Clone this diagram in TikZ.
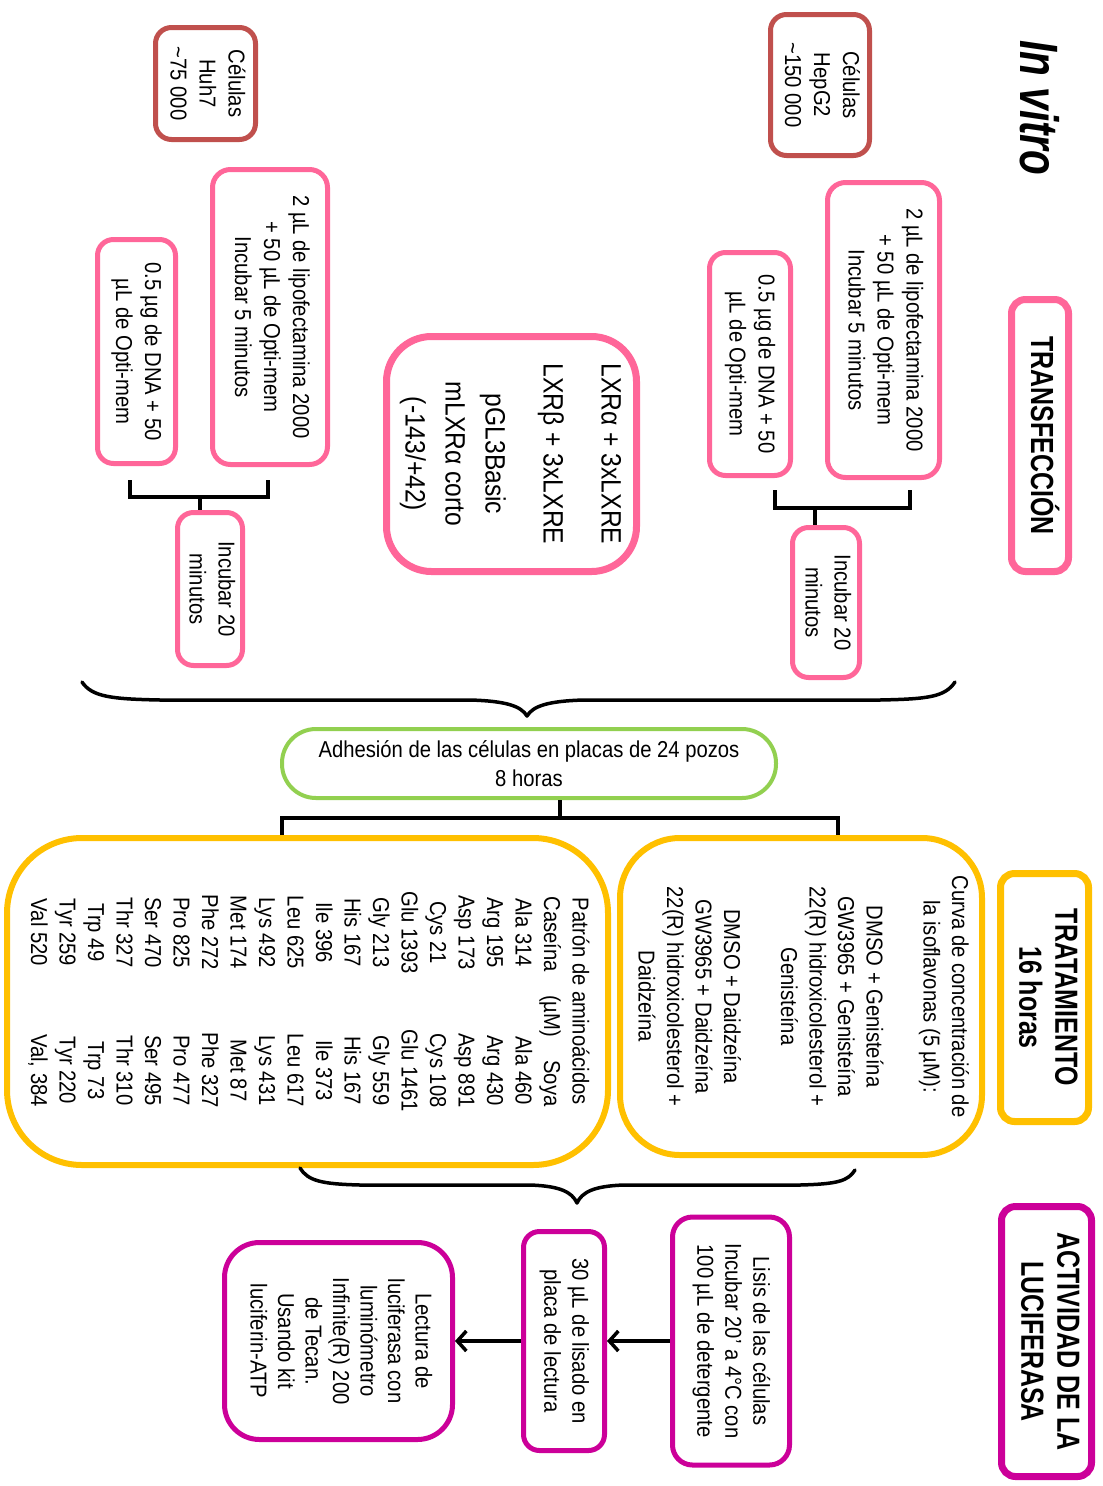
\documentclass[tikz,border=0pt]{standalone}
\usepackage{fontspec}
\setmainfont{Liberation Sans}[FakeStretch=0.88]
\newfontfamily\headfont{Liberation Sans}[FakeStretch=0.78]
\newfontfamily\titlefont{Liberation Sans}[FakeStretch=0.75]
\usetikzlibrary{arrows.meta}
\definecolor{pinkc}{RGB}{255,102,153}
\definecolor{redc}{RGB}{192,80,77}
\definecolor{greenc}{RGB}{146,208,80}
\definecolor{yellc}{RGB}{255,192,0}
\definecolor{magc}{RGB}{204,0,153}
\newcommand\rottxt[1]{\rotatebox{-90}{\begin{tabular}{@{}c@{}}#1\end{tabular}}}
\newcommand\aapair[2]{\makebox[138pt]{#1}\makebox[138pt]{#2}}
\tikzset{
  bx/.style={draw, inner sep=0pt, line width=5pt, rounded corners=16pt, fill=white, text=black, font=\fontsize{23}{29}\selectfont},
  redbox/.style={bx, draw=redc},
  pbox/.style={bx, draw=pinkc},
  ybox/.style={bx, draw=yellc, line width=6pt},
  mbox/.style={bx, draw=magc},
  headbox/.style={bx, line width=7pt, rounded corners=14pt, font=\headfont\bfseries\fontsize{32}{36}\selectfont},
  brk/.style={draw=black, line width=3.5pt},
  arr/.style={brk, -{Straight Barb[length=9pt,width=20pt]}},
  bracecurve/.style={draw=black, line width=3.5pt, line cap=round, line join=round}
}
\begin{document}
\begin{tikzpicture}[x=1pt,y=-1pt]
\useasboundingbox (0,0) rectangle (1103,1486);
\fill[white] (0,0) rectangle (1103,1486);

% title and headers
\node[font=\titlefont\bfseries\itshape\fontsize{54}{56}\selectfont] (title) at (1040,108) {\rotatebox{-90}{In vitro}};
\node[headbox, draw=pinkc, minimum width=57pt, minimum height=272pt] (transf) at (1040,435.5) {\rottxt{TRANSFECCIÓN}};
\node[headbox, draw=yellc, minimum width=88pt, minimum height=248pt] (trat) at (1044.5,997.5) {\rottxt{TRATAMIENTO\\16 horas}};
\node[headbox, draw=magc, minimum width=90pt, minimum height=270pt] (act) at (1046.5,1341.5) {\rottxt{ACTIVIDAD DE LA\\LUCIFERASA}};

% cells
\node[redbox, minimum width=99pt, minimum height=141pt] (hep) at (820,85) {\rottxt{Células\\HepG2\\\textasciitilde150 000}};
\node[redbox, minimum width=100pt, minimum height=112pt] (huh) at (205.5,83.5) {\rottxt{Células\\Huh7\\\textasciitilde75 000}};

% right transfection column
\node[pbox, rounded corners=18pt, minimum width=112pt, minimum height=295pt] (lipoR) at (883.5,330) {\rottxt{2 µL de lipofectamina 2000\\+ 50 µL de Opti-mem\\Incubar 5 minutos}};
\node[pbox, minimum width=81pt, minimum height=223pt] (dnaR) at (750,364) {\rottxt{0.5 µg de DNA + 50\\µL de Opti-mem}};
\node[pbox, minimum width=67pt, minimum height=150pt] (incR) at (826,602.5) {\rottxt{Incubar 20\\minutos}};

% left transfection column
\node[pbox, rounded corners=18pt, minimum width=115pt, minimum height=295pt] (lipoL) at (270,317) {\rottxt{2 µL de lipofectamina 2000\\+ 50 µL de Opti-mem\\Incubar 5 minutos}};
\node[pbox, minimum width=78pt, minimum height=224pt] (dnaL) at (136.5,351.5) {\rottxt{0.5 µg de DNA + 50\\µL de Opti-mem}};
\node[pbox, minimum width=65pt, minimum height=153pt] (incL) at (210,589) {\rottxt{Incubar 20\\minutos}};

% plasmids
\node[pbox, line width=7pt, rounded corners=45pt, minimum width=250pt, minimum height=235pt, font=\fontsize{28}{40}\selectfont] (lxr) at (511.5,454) {\rottxt{LXRα + 3xLXRE\\[18pt] LXRβ + 3xLXRE\\[18pt] pGL3Basic\\ mLXRα corto\\ (-143/+42)}};

% brackets
\coordinate (rb1) at (775,490);
\coordinate (rb2) at (910,490);
\coordinate (rbm) at (815,508);
\draw[brk] (rb1) |- (rbm) -| (rb2);
\draw[brk] (rbm) -- (rbm |- incR.north);
\coordinate (lb1) at (130,480);
\coordinate (lb2) at (268,480);
\coordinate (lbm) at (200,497);
\draw[brk] (lb1) |- (lbm) -| (lb2);
\draw[brk] (lbm) -- (lbm |- incL.north);

% adhesion
\node[bx, draw=greenc, line width=4pt, rounded corners=34pt, minimum width=494pt, minimum height=69pt, align=center] (green) at (529,763.5) {Adhesión de las células en placas de 24 pozos\\8 horas};

% brace 1
\coordinate (b1l) at (82,682);
\coordinate (b1r) at (955,682);
\coordinate (b1t) at (527,716);
\draw[bracecurve] (b1l) .. controls (92,697) and (112,699) .. (160,700) -- (470,700) .. controls (506,701) and (521,706) .. (b1t) .. controls (533,706) and (548,701) .. (584,700) -- (880,700) .. controls (928,699) and (945,697) .. (b1r);

% treatment boxes
\node[ybox, rounded corners=60pt, minimum width=362pt, minimum height=317pt, font=\fontsize{23}{28.5}\selectfont] (yR) at (801,996.5) {\rottxt{Curva de concentración de\\la isoflavonas (5 µM):\\ \\DMSO + Genisteína\\GW3965 + Genisteína\\22(R) hidroxicolesterol +\\Genisteína\\ \\DMSO + Daidzeína\\GW3965 + Daidzeína\\22(R) hidroxicolesterol +\\Daidzeína}};
\node[ybox, rounded corners=75pt, minimum width=601pt, minimum height=327pt, font=\fontsize{23}{28.5}\selectfont] (yL) at (307.5,1001.5) {\rottxt{Patrón de aminoácidos\\
\makebox[210pt]{Caseína\hfill(µM)\hfill Soya}\\
\aapair{Ala 314}{Ala 460}\\
\aapair{Arg 195}{Arg 430}\\
\aapair{Asp 173}{Asp 891}\\
\aapair{Cys 21}{Cys 108}\\
\aapair{Glu 1393}{Glu 1461}\\
\aapair{Gly 213}{Gly 559}\\
\aapair{His 167}{His 167}\\
\aapair{Ile 396}{Ile 373}\\
\aapair{Leu 625}{Leu 617}\\
\aapair{Lys 492}{Lys 431}\\
\aapair{Met 174}{Met 87}\\
\aapair{Phe 272}{Phe 327}\\
\aapair{Pro 825}{Pro 477}\\
\aapair{Ser 470}{Ser 495}\\
\aapair{Thr 327}{Thr 310}\\
\aapair{Trp 49}{Trp 73}\\
\aapair{Tyr 259}{Tyr 220}\\
\aapair{Val 520}{Val, 384}}};

% tree from adhesion to treatments
\coordinate (gm) at (560,818);
\draw[brk] (gm |- green.south) -- (gm);
\draw[brk] (282,0 |- yL.north) |- (gm) -| (838,0 |- yR.north);

% brace 2
\coordinate (b2l) at (300,1168);
\coordinate (b2r) at (855,1170);
\coordinate (b2t) at (577,1203);
\draw[bracecurve] (b2l) .. controls (308,1181) and (322,1184) .. (360,1185) -- (530,1185) .. controls (560,1186) and (572,1192) .. (b2t) .. controls (582,1192) and (594,1186) .. (624,1185) -- (800,1185) .. controls (838,1184) and (848,1181) .. (b2r);

% luciferase
\node[mbox, rounded corners=20pt, minimum width=117pt, minimum height=248pt, font=\fontsize{23}{28}\selectfont] (lisis) at (731,1341) {\rottxt{Lisis de las células\\Incubar 20' a 4°C con\\100 µL de detergente}};
\node[mbox, minimum width=81pt, minimum height=219pt, font=\fontsize{23}{28}\selectfont] (b30) at (564,1341) {\rottxt{30 µL de lisado en\\placa de lectura}};
\node[mbox, rounded corners=35pt, minimum width=228pt, minimum height=197pt, font=\fontsize{23}{27.5}\selectfont] (lect) at (338.5,1341) {\rottxt{Lectura de\\luciferasa con\\luminómetro\\Infinite(R) 200\\de Tecan.\\Usando kit\\luciferin-ATP}};
\draw[arr] (lisis.west) -- (b30.east);
\draw[arr] (b30.west) -- (lect.east);
\end{tikzpicture}
\end{document}
